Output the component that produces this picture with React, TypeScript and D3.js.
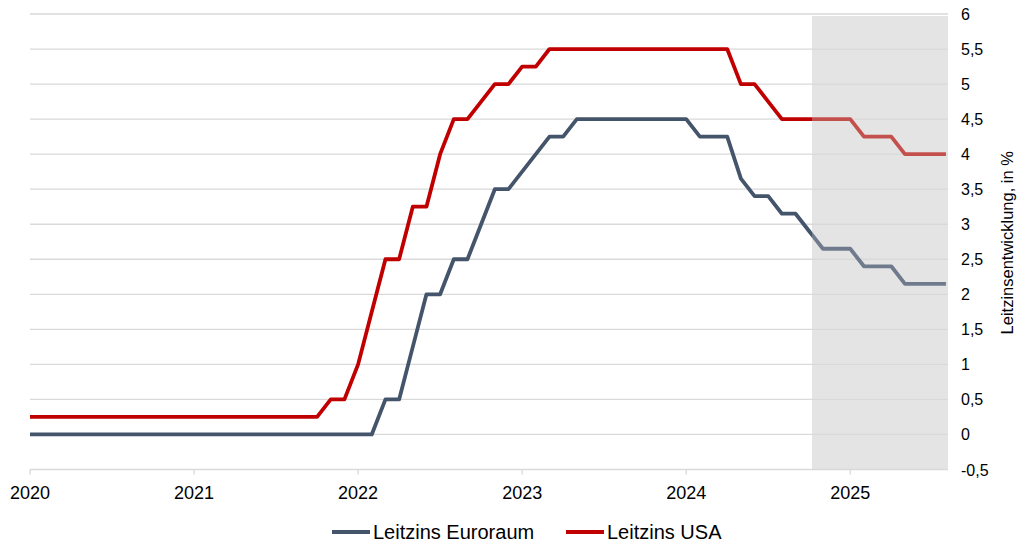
import React from "react";
import * as d3 from "d3";

// Monthly values, Jan 2020 (index 0) to Aug 2025 (index 67)
const usaRate: number[] = [
  0.25, 0.25, 0.25, 0.25, 0.25, 0.25, 0.25, 0.25, 0.25, 0.25, 0.25, 0.25,
  0.25, 0.25, 0.25, 0.25, 0.25, 0.25, 0.25, 0.25, 0.25, 0.25, 0.5, 0.5,
  1.0, 1.75, 2.5, 2.5, 3.25, 3.25, 4.0, 4.5, 4.5, 4.75, 5.0, 5.0,
  5.25, 5.25, 5.5, 5.5, 5.5, 5.5, 5.5, 5.5, 5.5, 5.5, 5.5, 5.5,
  5.5, 5.5, 5.5, 5.5, 5.0, 5.0, 4.75, 4.5, 4.5, 4.5, 4.5, 4.5,
  4.5, 4.25, 4.25, 4.25, 4.0, 4.0, 4.0, 4.0,
];
const euroRate: number[] = [
  0, 0, 0, 0, 0, 0, 0, 0, 0, 0, 0, 0,
  0, 0, 0, 0, 0, 0, 0, 0, 0, 0, 0, 0,
  0, 0, 0.5, 0.5, 1.25, 2.0, 2.0, 2.5, 2.5, 3.0, 3.5, 3.5,
  3.75, 4.0, 4.25, 4.25, 4.5, 4.5, 4.5, 4.5, 4.5, 4.5, 4.5, 4.5,
  4.5, 4.25, 4.25, 4.25, 3.65, 3.4, 3.4, 3.15, 3.15, 2.9, 2.65, 2.65,
  2.65, 2.4, 2.4, 2.4, 2.15, 2.15, 2.15, 2.15,
];
const yearLabels: string[] = ["2020", "2021", "2022", "2023", "2024", "2025"];
const yTicks: number[] = [-0.5, 0, 0.5, 1, 1.5, 2, 2.5, 3, 3.5, 4, 4.5, 5, 5.5, 6];
const forecastStart = 57.2; // month index where the shaded forecast region begins
const monthEnd = 67.15;

const seriesNames = ["Leitzins Euroraum", "Leitzins USA"];
const yTitle = "Leitzinsentwicklung, in %";

const W = 1019;
const H = 544;
const FONT = "'Liberation Sans', Arial, sans-serif";

export default function App() {
  const x = d3.scaleLinear().domain([0, monthEnd]).range([30, 948]);
  const y = d3.scaleLinear().domain([-0.5, 6]).range([469.5, 14]);

  const line = d3
    .line<number>()
    .x((_, i) => x(i))
    .y((d) => y(d))
    .curve(d3.curveLinear);

  const euroPath = line(euroRate) || "";
  const usaPath = line(usaRate) || "";

  const fx = x(forecastStart);
  const x0 = x(0);
  const x1 = x(monthEnd);
  const fmt = (v: number) => String(v).replace(".", ",");

  return (
    <svg
      width={W}
      height={H}
      style={{ position: "absolute", left: 0, top: 0, background: "#fff" }}
      fontFamily={FONT}
    >
      <defs>
        <clipPath id="histClip">
          <rect x={0} y={0} width={fx} height={H} />
        </clipPath>
        <clipPath id="fcClip">
          <rect x={fx} y={0} width={W - fx} height={H} />
        </clipPath>
      </defs>

      {/* shaded forecast area */}
      <rect x={fx} y={y(6) + 2} width={x1 - fx} height={y(-0.5) - y(6) - 2} fill="#e4e4e4" />

      {/* gridlines */}
      {yTicks.map((t) => (
        <line key={t} x1={x0} x2={x1} y1={y(t)} y2={y(t)} stroke="#d9d9d9" strokeWidth={1.3} />
      ))}

      {/* x-axis ticks */}
      {yearLabels.map((lbl, i) => (
        <g key={lbl}>
          <line x1={x(i * 12)} x2={x(i * 12)} y1={y(-0.5)} y2={y(-0.5) + 5} stroke="#d9d9d9" strokeWidth={1.3} />
          <text x={x(i * 12)} y={499} textAnchor="middle" fontSize={18} fill="#000">
            {lbl}
          </text>
        </g>
      ))}

      {/* right y labels */}
      {yTicks.map((t) => (
        <text key={t} x={961} y={y(t) + 6} fontSize={16} fill="#000">
          {fmt(t)}
        </text>
      ))}

      <text
        transform={`translate(1013, ${(y(6) + y(-0.5)) / 2 + 1}) rotate(-90)`}
        textAnchor="middle"
        fontSize={16.5}
        fill="#000"
      >
        {yTitle}
      </text>

      {/* lines: historical */}
      <g clipPath="url(#histClip)" fill="none" strokeWidth={3.8} strokeLinejoin="round">
        <path d={euroPath} stroke="#44546a" />
        <path d={usaPath} stroke="#c00000" />
      </g>
      {/* lines: forecast */}
      <g clipPath="url(#fcClip)" fill="none" strokeWidth={3.8} strokeLinejoin="round">
        <path d={euroPath} stroke="#6f7b8d" />
        <path d={usaPath} stroke="#c4504e" />
      </g>

      {/* legend */}
      <g>
        <line x1={332} x2={370} y1={532} y2={532} stroke="#44546a" strokeWidth={4} />
        <text x={373} y={539} fontSize={20} fill="#000">
          {seriesNames[0]}
        </text>
        <line x1={566} x2={604} y1={532} y2={532} stroke="#c00000" strokeWidth={4} />
        <text x={607} y={539} fontSize={20} fill="#000">
          {seriesNames[1]}
        </text>
      </g>
    </svg>
  );
}
